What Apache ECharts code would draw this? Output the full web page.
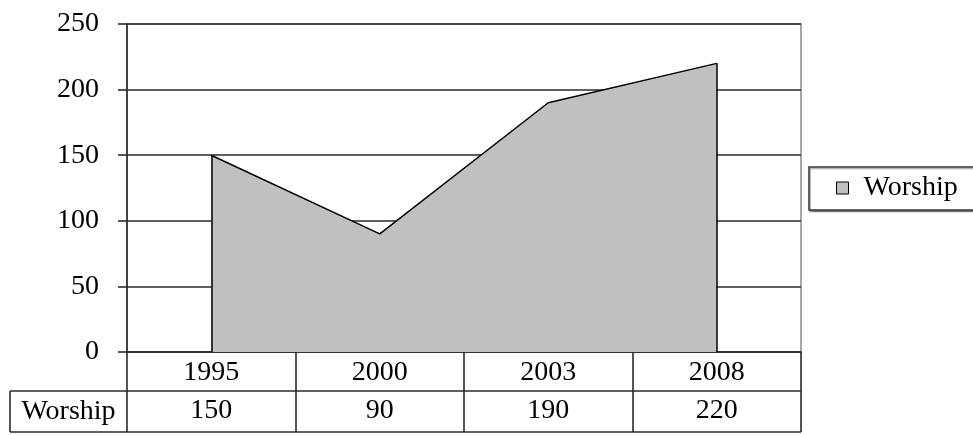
<!DOCTYPE html>
<html>
<head>
<meta charset="utf-8">
<script src="https://cdn.jsdelivr.net/npm/echarts@6/dist/echarts.min.js"></script>
<style>
html,body{margin:0;padding:0;background:#fff;}
#c{width:973px;height:435px;}
</style>
</head>
<body>
<div id="c"></div>
<script>
var seriesName = 'Worship';
var years = ['1995', '2000', '2003', '2008'];
var worship = [150, 90, 190, 220];
var yTicks = [0, 50, 100, 150, 200, 250];

var FONT = 'Liberation Serif, Times New Roman, serif';
var FS = 28;

var chart = echarts.init(document.getElementById('c'), null, {renderer: 'canvas'});

var gridL = 127, gridT = 24, gridR = 801, gridB = 352;
var row1B = 391, row2B = 432, tableL = 10;
var LC = '#2a2a2a', LW = 1.6;
var legL = 809, legT = 167, legH = 43;

var option = {
  animation: false,
  backgroundColor: '#fff',
  textStyle: {fontFamily: FONT, color: '#000'},
  grid: {
    left: gridL, top: gridT, right: 973 - gridR, bottom: 435 - gridB,
    show: true, borderColor: '#8a8a8a', borderWidth: 1.5, backgroundColor: 'transparent'
  },
  legend: {
    left: legL, top: legT,
    padding: [7, 5, 7, 27],
    borderWidth: 0,
    backgroundColor: 'transparent',
    itemWidth: 12, itemHeight: 12,
    icon: 'rect',
    textStyle: {fontFamily: FONT, fontSize: FS, color: '#000', padding: [0, 0, 0, 10]},
    data: [{name: seriesName, itemStyle: {color: '#c0c0c0', borderColor: '#000', borderWidth: 1}}]
  },
  xAxis: [{
    type: 'category',
    data: years,
    boundaryGap: true,
    position: 'bottom',
    axisLine: {show: true, lineStyle: {color: LC, width: LW}},
    axisTick: {show: true, inside: false, length: row2B - gridB, interval: 0, lineStyle: {color: LC, width: LW}},
    axisLabel: {fontFamily: FONT, fontSize: FS, color: '#000', margin: 7, interval: 0},
    splitLine: {show: false}
  }, {
    type: 'category',
    data: worship.map(String),
    boundaryGap: true,
    position: 'bottom',
    offset: row1B - gridB,
    axisLine: {show: false},
    axisTick: {show: false},
    axisLabel: {fontFamily: FONT, fontSize: FS, color: '#000', margin: 6, interval: 0},
    splitLine: {show: false}
  }],
  yAxis: {
    type: 'value',
    min: yTicks[0], max: yTicks[yTicks.length - 1], interval: 50,
    axisLine: {show: true, lineStyle: {color: LC, width: LW}},
    axisTick: {show: true, length: 9, lineStyle: {color: LC, width: LW}},
    axisLabel: {fontFamily: FONT, fontSize: FS, color: '#000', margin: 28},
    splitLine: {show: true, lineStyle: {color: LC, width: LW}}
  },
  series: [{
    name: seriesName,
    type: 'line',
    xAxisIndex: 0,
    data: worship,
    symbol: 'none',
    lineStyle: {color: '#000', width: 1.5},
    itemStyle: {color: '#c0c0c0'},
    areaStyle: {color: '#c0c0c0', opacity: 1},
    markLine: {
      silent: true,
      symbol: ['none', 'none'],
      label: {show: false},
      lineStyle: {color: '#000', type: 'solid', width: 1.5},
      data: [
        [{coord: [years[0], 0]}, {coord: [years[0], worship[0]]}],
        [{coord: [years[years.length - 1], 0]}, {coord: [years[years.length - 1], worship[worship.length - 1]]}]
      ]
    }
  }],
  graphic: [
    {type: 'rect', z: -10, shape: {x: legL, y: legT, width: 220, height: legH},
      style: {fill: '#fff', stroke: '#333', lineWidth: 1.5, shadowColor: 'rgba(0,0,0,0.35)', shadowOffsetX: 1, shadowOffsetY: 1.5, shadowBlur: 1}},
    {type: 'line', shape: {x1: tableL, y1: row1B, x2: gridR, y2: row1B}, style: {stroke: LC, lineWidth: LW}},
    {type: 'line', shape: {x1: tableL, y1: row2B, x2: gridR, y2: row2B}, style: {stroke: LC, lineWidth: LW}},
    {type: 'line', shape: {x1: tableL, y1: row1B, x2: tableL, y2: row2B}, style: {stroke: LC, lineWidth: LW}},
    {type: 'text', x: (tableL + gridL) / 2, y: (row1B + row2B) / 2,
      style: {text: seriesName, fontFamily: FONT, fontSize: FS, fill: '#000', align: 'center', verticalAlign: 'middle'}}
  ]
};
chart.setOption(option);
</script>
</body>
</html>
